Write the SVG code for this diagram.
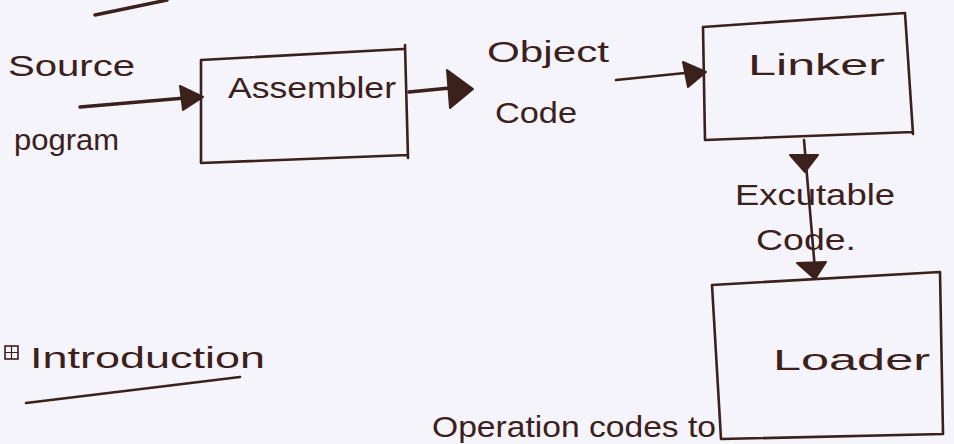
<svg xmlns="http://www.w3.org/2000/svg" width="954" height="444" viewBox="0 0 954 444">
<style>
.ink{fill:none;stroke:#3b201b;stroke-width:2.6;stroke-linecap:round;stroke-linejoin:round}
.thick{stroke-width:3.4}
.head{fill:#3b201b;stroke:#3b201b;stroke-width:2;stroke-linejoin:round}
.t{font-family:"Liberation Sans","DejaVu Sans",sans-serif;fill:#3b201b;font-size:30px}
</style>
<rect width="954" height="444" fill="#f4f4fa"/>
<path class="ink thick" d="M95 15 L167 0"/>
<g id="labels">
<text class="t" x="8" y="76" textLength="127" lengthAdjust="spacingAndGlyphs">Source</text>
<text class="t" x="14" y="150" textLength="105" lengthAdjust="spacingAndGlyphs">pogram</text>
<text class="t" x="487" y="62" textLength="122" lengthAdjust="spacingAndGlyphs">Object</text>
<text class="t" x="495" y="123" textLength="82" lengthAdjust="spacingAndGlyphs">Code</text>
<text class="t" x="735" y="205" textLength="160" lengthAdjust="spacingAndGlyphs">Excutable</text>
<text class="t" x="756" y="250" textLength="100" lengthAdjust="spacingAndGlyphs">Code.</text>
</g>
<g id="assembler">
<path class="ink" d="M201 60 L403 49 M405 45 L408 158 M201 60 L201 163 L408 155"/>
<text class="t" x="228" y="98" font-size="32" textLength="168" lengthAdjust="spacingAndGlyphs">Assembler</text>
</g>
<g id="linker">
<path class="ink" d="M703 27 L905 13 M905 13 L913 134 M703 27 L705 140 L913 132"/>
<text class="t" x="748" y="75" textLength="137" lengthAdjust="spacingAndGlyphs">Linker</text>
</g>
<g id="loader">
<path class="ink" d="M712 285 L940 272 L943 434 M712 285 L721 439 L943 434"/>
<text class="t" x="773" y="370" font-size="40" textLength="157" lengthAdjust="spacingAndGlyphs">Loader</text>
</g>
<g id="connectors">
<path class="ink thick" d="M80 107 L185 98"/>
<path class="head" d="M180 86 L203 97 L183 110 Z"/>
<path class="ink thick" d="M409 92 L450 88"/>
<path class="head" d="M447 70 L473 89 L450 108 Z"/>
<path class="ink" d="M616 80 L685 73"/>
<path class="head" d="M683 62 L706 72 L688 87 Z"/>
<path class="ink" d="M804 140 L815 270"/>
<path class="head" d="M790 155 L818 155 L805 172 Z"/>
<path class="head" d="M797 263 L826 262 L815 279 Z"/>
</g>
<g id="introduction">
<rect x="5" y="346" width="13" height="13" fill="none" stroke="#3b201b" stroke-width="1.6"/>
<path d="M11.5 346 V359 M5 352.5 H18" stroke="#3b201b" stroke-width="1.2"/>
<text class="t" x="30" y="368" font-size="34" textLength="235" lengthAdjust="spacingAndGlyphs">Introduction</text>
<path class="ink" d="M26 403 L240 377"/>
</g>
<text class="t" x="432" y="437" font-size="27" textLength="284" lengthAdjust="spacingAndGlyphs">Operation codes to</text>
</svg>
